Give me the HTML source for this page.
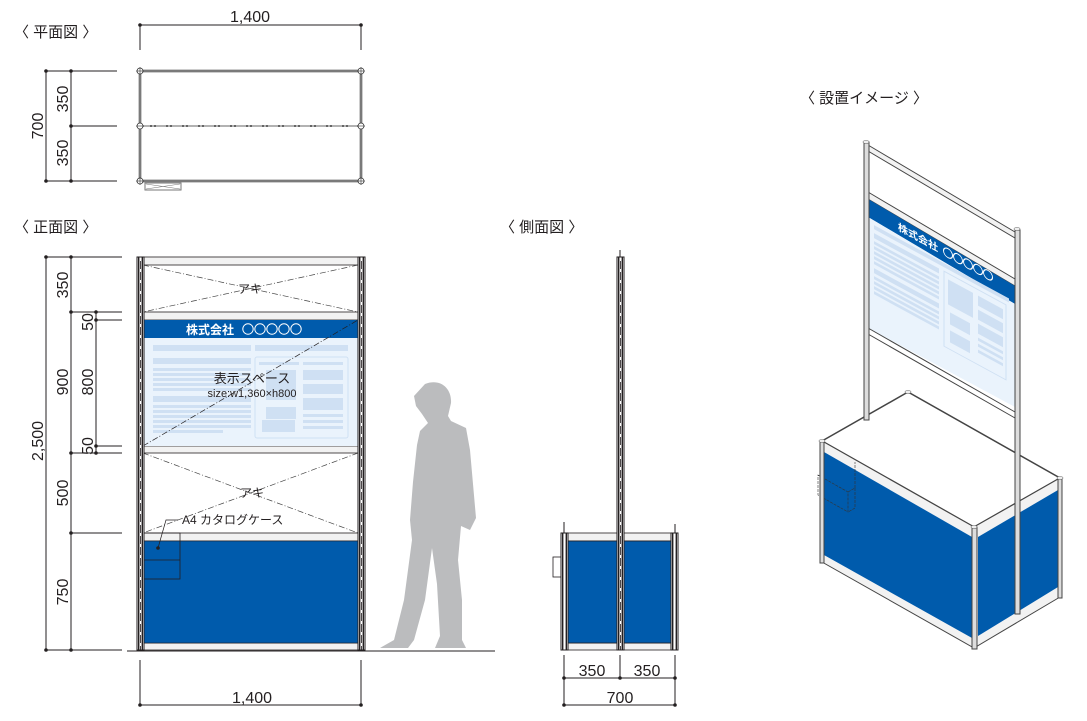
<!DOCTYPE html>
<html><head><meta charset="utf-8">
<style>
html,body{margin:0;padding:0;background:#fff;}
svg{display:block;}
text{font-family:"Liberation Sans","Noto Sans CJK JP",sans-serif;fill:#231f20;}
</style></head>
<body>
<svg width="1087" height="721" viewBox="0 0 1087 721" xmlns="http://www.w3.org/2000/svg">
<defs>
<g id="post">
  <rect x="0" y="0" width="7" height="393" fill="#fff" stroke="#231f20" stroke-width="1"/>
  <rect x="1" y="0" width="1.4" height="393" fill="#231f20"/>
  <rect x="4.6" y="0" width="1.4" height="393" fill="#231f20"/>
  <line x1="3.5" y1="4" x2="3.5" y2="393" stroke="#231f20" stroke-width="0.8" stroke-dasharray="8 3"/>
</g>
</defs>

<!-- ============ PLAN VIEW ============ -->
<text x="14" y="37" font-size="15">〈 平面図 〉</text>
<text x="250" y="22" font-size="16" text-anchor="middle">1,400</text>
<g stroke="#231f20" stroke-width="1" fill="none">
  <line x1="140" y1="25" x2="361" y2="25"/>
  <line x1="140" y1="25" x2="140" y2="50"/>
  <line x1="361" y1="25" x2="361" y2="50"/>
  <line x1="46" y1="71" x2="46" y2="181"/>
  <line x1="71" y1="71" x2="71" y2="181"/>
  <line x1="46" y1="71" x2="117" y2="71"/>
  <line x1="71" y1="126" x2="117" y2="126"/>
  <line x1="46" y1="181" x2="117" y2="181"/>
</g>
<g fill="#231f20">
  <circle cx="140" cy="25" r="1.8"/><circle cx="361" cy="25" r="1.8"/>
  <circle cx="46" cy="71" r="1.8"/><circle cx="71" cy="71" r="1.8"/>
  <circle cx="71" cy="126" r="1.8"/><circle cx="46" cy="181" r="1.8"/><circle cx="71" cy="181" r="1.8"/>
</g>
<text font-size="16" transform="translate(68,99) rotate(-90)" text-anchor="middle">350</text>
<text font-size="16" transform="translate(68,153) rotate(-90)" text-anchor="middle">350</text>
<text font-size="16" transform="translate(43,126) rotate(-90)" text-anchor="middle">700</text>
<g fill="none">
  <rect x="140" y="71" width="221" height="110" stroke="#999" stroke-width="3"/>
  <rect x="140" y="71" width="221" height="110" stroke="#333" stroke-width="0.6"/>
  <line x1="140" y1="126" x2="361" y2="126" stroke="#333" stroke-width="1.5"/>
  <line x1="140" y1="126" x2="361" y2="126" stroke="#fff" stroke-width="0.8" stroke-dasharray="10 2 2 2"/>
</g>
<g fill="#fff" stroke="#333" stroke-width="0.8">
  <circle cx="140" cy="71" r="3"/><circle cx="361" cy="71" r="3"/>
  <circle cx="140" cy="126" r="3"/><circle cx="361" cy="126" r="3"/>
  <circle cx="140" cy="181" r="3"/><circle cx="361" cy="181" r="3"/>
</g>
<g stroke="#333" stroke-width="0.6">
  <line x1="136" y1="71" x2="144" y2="71"/><line x1="140" y1="67" x2="140" y2="75"/>
  <line x1="357" y1="71" x2="365" y2="71"/><line x1="361" y1="67" x2="361" y2="75"/>
  <line x1="136" y1="126" x2="144" y2="126"/><line x1="357" y1="126" x2="365" y2="126"/>
  <line x1="136" y1="181" x2="144" y2="181"/><line x1="357" y1="181" x2="365" y2="181"/>
  <line x1="361" y1="177" x2="361" y2="185"/><line x1="140" y1="177" x2="140" y2="185"/>
</g>
<rect x="145" y="183" width="36" height="7" fill="#fff" stroke="#777" stroke-width="1"/>
<path d="M146,184 L180,189 M146,189 L180,184" stroke="#777" stroke-width="0.6"/>

<!-- ============ FRONT VIEW ============ -->
<text x="14" y="232" font-size="15">〈 正面図 〉</text>
<g stroke="#231f20" stroke-width="1" fill="none">
  <line x1="46" y1="257" x2="46" y2="650"/>
  <line x1="71" y1="257" x2="71" y2="650"/>
  <line x1="96" y1="312" x2="96" y2="453"/>
  <line x1="46" y1="257" x2="122" y2="257"/>
  <line x1="71" y1="312" x2="122" y2="312"/>
  <line x1="96" y1="320" x2="122" y2="320"/>
  <line x1="96" y1="446" x2="122" y2="446"/>
  <line x1="71" y1="453" x2="122" y2="453"/>
  <line x1="71" y1="533" x2="122" y2="533"/>
  <line x1="46" y1="650" x2="122" y2="650"/>
</g>
<g fill="#231f20">
  <circle cx="46" cy="257" r="1.8"/><circle cx="71" cy="257" r="1.8"/>
  <circle cx="71" cy="312" r="1.8"/><circle cx="96" cy="312" r="1.8"/><circle cx="96" cy="320" r="1.8"/>
  <circle cx="96" cy="446" r="1.8"/><circle cx="96" cy="453" r="1.8"/><circle cx="71" cy="453" r="1.8"/>
  <circle cx="71" cy="533" r="1.8"/><circle cx="46" cy="650" r="1.8"/><circle cx="71" cy="650" r="1.8"/>
</g>
<text font-size="16" transform="translate(68,285) rotate(-90)" text-anchor="middle">350</text>
<text font-size="16" transform="translate(68,382) rotate(-90)" text-anchor="middle">900</text>
<text font-size="16" transform="translate(68,493) rotate(-90)" text-anchor="middle">500</text>
<text font-size="16" transform="translate(68,592) rotate(-90)" text-anchor="middle">750</text>
<text font-size="16" transform="translate(43,441) rotate(-90)" text-anchor="middle">2,500</text>
<text font-size="16" transform="translate(93,322) rotate(-90)" text-anchor="middle">50</text>
<text font-size="16" transform="translate(93,382) rotate(-90)" text-anchor="middle">800</text>
<text font-size="16" transform="translate(93,446) rotate(-90)" text-anchor="middle">50</text>

<rect x="143" y="257" width="215" height="393" fill="#fff"/>
<g stroke="#231f20" stroke-width="0.8">
  <rect x="143" y="257" width="215" height="8" fill="#f2f2f2"/>
  <rect x="143" y="312" width="215" height="8" fill="#f2f2f2"/>
  <rect x="143" y="446" width="215" height="7" fill="#f2f2f2"/>
  <rect x="143" y="533" width="215" height="8" fill="#f2f2f2"/>
  <rect x="143" y="643" width="215" height="7" fill="#f2f2f2"/>
</g>
<g stroke="#444" stroke-width="0.7" stroke-dasharray="6 2 1 2" fill="none">
  <line x1="143" y1="265" x2="358" y2="312"/><line x1="358" y1="265" x2="143" y2="312"/>
  <line x1="143" y1="453" x2="358" y2="533"/><line x1="358" y1="453" x2="143" y2="533"/>
</g>
<text x="250" y="293" font-size="12" text-anchor="middle">アキ</text>
<text x="252" y="497" font-size="12" text-anchor="middle">アキ</text>
<rect x="143" y="320" width="215" height="18" fill="#005bac"/>
<text x="234" y="334" font-size="12" font-weight="bold" text-anchor="end" style="fill:#fff">株式会社</text>
<g fill="none" stroke="#fff" stroke-width="1"><circle cx="248" cy="329" r="5.2"/><circle cx="260" cy="329" r="5.2"/><circle cx="272" cy="329" r="5.2"/><circle cx="284" cy="329" r="5.2"/><circle cx="296" cy="329" r="5.2"/></g>
<rect x="143" y="338" width="215" height="108" fill="#eaf3fc"/>
<g fill="#cfe0f3">
  <rect x="153" y="345" width="98" height="6"/><rect x="255" y="345" width="93" height="6"/>
  <rect x="153" y="358" width="98" height="6"/>
  <rect x="153" y="368" width="98" height="3"/><rect x="153" y="373" width="98" height="3"/><rect x="153" y="378" width="98" height="3"/><rect x="153" y="383" width="98" height="3"/><rect x="153" y="388" width="98" height="3"/>
  <rect x="153" y="396" width="98" height="6"/>
  <rect x="153" y="405" width="98" height="3"/><rect x="153" y="410" width="98" height="3"/><rect x="153" y="415" width="98" height="3"/><rect x="153" y="420" width="98" height="3"/><rect x="153" y="425" width="98" height="3"/><rect x="153" y="430" width="70" height="3"/>
  <rect x="259" y="362" width="40" height="3"/><rect x="303" y="362" width="40" height="3"/>
  <rect x="266" y="370" width="30" height="30"/><rect x="303" y="370" width="40" height="10"/><rect x="303" y="384" width="40" height="10"/><rect x="303" y="398" width="40" height="12"/>
  <rect x="303" y="414" width="40" height="3"/><rect x="303" y="420" width="40" height="3"/><rect x="303" y="426" width="40" height="3"/>
  <rect x="266" y="407" width="30" height="12"/><rect x="262" y="420" width="33" height="12"/>
</g>
<rect x="255" y="357" width="93" height="81" rx="2" fill="none" stroke="#cfe0f3" stroke-width="1"/>
<line x1="143" y1="446" x2="358" y2="320" stroke="#231f20" stroke-width="0.7" stroke-dasharray="6 2 1 2"/>
<text x="252" y="383" font-size="13" text-anchor="middle">表示スペース</text>
<text x="252" y="397" font-size="11" text-anchor="middle">size:w1,360×h800</text>
<rect x="143" y="541" width="215" height="102" fill="#005bac" stroke="#231f20" stroke-width="0.6"/>
<rect x="143" y="533" width="37" height="46" fill="none" stroke="#231f20" stroke-width="0.8"/>
<line x1="143" y1="560" x2="180" y2="560" stroke="#231f20" stroke-width="0.8"/>
<circle cx="158" cy="548" r="1.8" fill="#231f20"/>
<polyline points="158,548 166,520 178,520" fill="none" stroke="#231f20" stroke-width="0.7"/>
<text x="182" y="524" font-size="12">A4 カタログケース</text>
<use href="#post" x="137" y="257"/>
<use href="#post" x="358" y="257"/>
<line x1="127" y1="651" x2="495" y2="651" stroke="#231f20" stroke-width="1"/>
<g stroke="#231f20" stroke-width="1">
  <line x1="140" y1="660" x2="140" y2="705"/><line x1="361" y1="660" x2="361" y2="705"/>
  <line x1="140" y1="705" x2="361" y2="705"/>
</g>
<circle cx="140" cy="705" r="1.8" fill="#231f20"/><circle cx="361" cy="705" r="1.8" fill="#231f20"/>
<text x="252" y="703" font-size="16" text-anchor="middle">1,400</text>

<path fill="#bbbcbe" d="M425,384 C440,378 452,388 451,403 L448,416 L451,421 L466,428 L470,450 L476,518 L470,530 L461,526 L458,560 L462,600 L462,640 L466,648 L435,648 L440,636 L437,584 L432,548 L425,600 L414,640 L408,648 L380,648 L394,640 L404,600 L412,540 L410,520 L413,482 L417,445 L420,431 L428,423 L422,414 L416,406 L414,396 Z"/>

<!-- ============ SIDE VIEW ============ -->
<text x="500" y="232" font-size="15">〈 側面図 〉</text>
<rect x="568" y="533" width="103" height="117" fill="#fff"/>
<g stroke="#231f20" stroke-width="0.8">
  <rect x="568" y="533" width="103" height="8" fill="#f2f2f2"/>
  <rect x="568" y="643" width="103" height="7" fill="#f2f2f2"/>
  <rect x="568" y="541" width="103" height="102" fill="#005bac"/>
</g>
<rect x="553" y="557" width="8" height="20" fill="#fff" stroke="#231f20" stroke-width="0.8"/>
<g>
  <rect x="561" y="533" width="7" height="117" fill="#fff" stroke="#231f20"/>
  <rect x="562" y="533" width="1.4" height="117" fill="#231f20"/><rect x="565.6" y="533" width="1.4" height="117" fill="#231f20"/>
  <rect x="671" y="533" width="7" height="117" fill="#fff" stroke="#231f20"/>
  <rect x="672" y="533" width="1.4" height="117" fill="#231f20"/><rect x="675.6" y="533" width="1.4" height="117" fill="#231f20"/>
  <line x1="564" y1="522" x2="564" y2="533" stroke="#231f20"/><line x1="675" y1="524" x2="675" y2="533" stroke="#231f20"/>
  <line x1="620" y1="250" x2="620" y2="257" stroke="#231f20"/>
</g>
<use href="#post" x="617" y="257"/>
<g stroke="#231f20" stroke-width="1">
  <line x1="564" y1="655" x2="564" y2="705"/><line x1="620" y1="655" x2="620" y2="678"/><line x1="675" y1="655" x2="675" y2="705"/>
  <line x1="564" y1="678" x2="675" y2="678"/><line x1="564" y1="705" x2="675" y2="705"/>
</g>
<g fill="#231f20"><circle cx="564" cy="678" r="1.8"/><circle cx="620" cy="678" r="1.8"/><circle cx="675" cy="678" r="1.8"/><circle cx="564" cy="705" r="1.8"/><circle cx="675" cy="705" r="1.8"/></g>
<text x="592" y="676" font-size="16" text-anchor="middle">350</text>
<text x="647" y="676" font-size="16" text-anchor="middle">350</text>
<text x="620" y="703" font-size="16" text-anchor="middle">700</text>

<!-- ============ ISOMETRIC ============ -->
<text x="800" y="103" font-size="15">〈 設置イメージ 〉</text>
<g stroke="#444" stroke-width="1">
  <polygon points="822,441 908,392 1060,478 974,527" fill="#fff" stroke-width="1.5"/>
  <polygon points="822,441 974,527 974,648 822,562" fill="#f2f2f2"/>
  <polygon points="824,452 972,537 972,638 824,555" fill="#005bac" stroke="none"/>
  <polygon points="974,527 1060,478 1060,597 974,648" fill="#f2f2f2"/>
  <polygon points="978,537 1058,490 1058,587 978,636" fill="#005bac" stroke="none"/>
  <g fill="none" stroke="#333" stroke-width="0.6" stroke-dasharray="3 1">
    <polygon points="818,475 848,492 848,512 818,495"/>
    <line x1="848" y1="492" x2="855" y2="488"/><line x1="855" y1="488" x2="855" y2="508"/><line x1="855" y1="508" x2="848" y2="512"/>
    <line x1="855" y1="488" x2="855" y2="462"/>
  </g>
  <rect x="820" y="441" width="4" height="122" fill="#ddd"/>
  <rect x="972" y="527" width="5" height="122" fill="#ddd"/>
  <rect x="1058" y="478" width="4" height="120" fill="#ddd"/>
  <polygon points="868,145 1015,232 1015,238 868,151" fill="#f2f2f2"/>
  <polygon points="868,192 1015,279 1015,286 868,199" fill="#f2f2f2"/>
  <polygon points="868,199 1015,286 1015,304 868,217" fill="#005bac" stroke="none"/>
  <polygon points="868,217 1015,304 1015,407 868,328" fill="#eaf3fc" stroke="none"/>
  <line x1="868" y1="328" x2="1015" y2="412"/>
  <line x1="868" y1="334" x2="1015" y2="418"/>
  <rect x="864" y="142" width="5" height="278" fill="#ddd"/>
  <rect x="1015" y="230" width="5" height="384" fill="#ddd"/>
</g>
<g transform="translate(870,217) skewY(28.5)" fill="#cfe0f3">
  <rect x="4" y="6" width="135" height="4"/>
  <rect x="4" y="14" width="65" height="5"/>
  <rect x="4" y="22" width="65" height="3"/><rect x="4" y="27" width="65" height="3"/><rect x="4" y="32" width="65" height="3"/><rect x="4" y="37" width="65" height="3"/><rect x="4" y="42" width="65" height="3"/>
  <rect x="4" y="49" width="65" height="5"/>
  <rect x="4" y="57" width="65" height="3"/><rect x="4" y="62" width="65" height="3"/><rect x="4" y="67" width="65" height="3"/><rect x="4" y="72" width="65" height="3"/>
  <rect x="74" y="14" width="62" height="75" fill="none" stroke="#cfe0f3"/>
  <rect x="78" y="20" width="25" height="25"/><rect x="108" y="20" width="25" height="10"/><rect x="108" y="34" width="25" height="10"/><rect x="108" y="48" width="25" height="10"/>
  <rect x="80" y="52" width="20" height="12"/><rect x="80" y="70" width="20" height="12"/>
  <rect x="108" y="62" width="25" height="3"/><rect x="108" y="68" width="25" height="3"/><rect x="108" y="74" width="25" height="3"/>
</g>
<g transform="translate(898,230) skewY(28.5)">
  <text x="0" y="0" font-size="10" font-weight="bold" style="fill:#fff">株式会社</text>
  <g fill="none" stroke="#fff" stroke-width="1"><circle cx="50" cy="-4" r="4.5"/><circle cx="60" cy="-4" r="4.5"/><circle cx="70" cy="-4" r="4.5"/><circle cx="80" cy="-4" r="4.5"/><circle cx="90" cy="-4" r="4.5"/></g>
</g>
<g fill="#eee" stroke="#666" stroke-width="0.6">
  <ellipse cx="866" cy="142" rx="3" ry="1.5"/><ellipse cx="1017" cy="229" rx="3" ry="1.5"/>
  <ellipse cx="908" cy="392" rx="3" ry="1.5"/><ellipse cx="822" cy="441" rx="3" ry="1.5"/>
  <ellipse cx="974" cy="527" rx="3" ry="1.5"/><ellipse cx="1060" cy="478" rx="3" ry="1.5"/>
</g>
</svg>
</body></html>
